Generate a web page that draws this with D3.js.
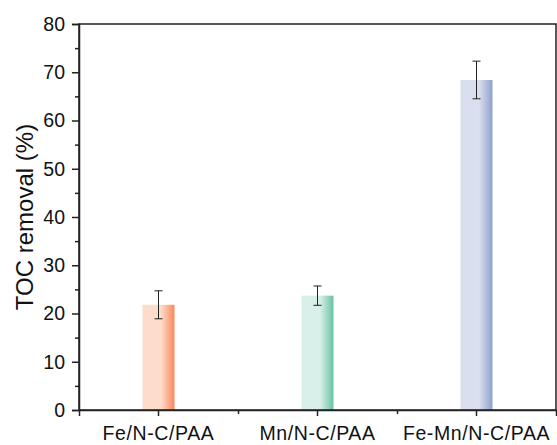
<!DOCTYPE html>
<html>
<head>
<meta charset="utf-8">
<script src="https://cdn.jsdelivr.net/npm/d3@7"></script>
<style>
  body { margin: 0; background: #fff; }
  svg { display: block; font-family: "Liberation Sans", Arial, sans-serif; }
</style>
</head>
<body>
<div id="chart"></div>
<script>
const categories = ["Fe/N-C/PAA", "Mn/N-C/PAA", "Fe-Mn/N-C/PAA"];
const values = [21.8, 23.7, 68.4];
const errors = [2.9, 2.0, 3.9];
const lightColors = ["#fedccc", "#d9efe9", "#d9dfee"];
const darkColors = ["#fb875a", "#68c3a1", "#8ea1cd"];
const yTicks = [0, 10, 20, 30, 40, 50, 60, 70, 80];

const width = 557, height = 445;
const margin = {top: 24, right: 1, bottom: 35, left: 79};
const w = width - margin.left - margin.right;
const h = height - margin.top - margin.bottom;

const svg = d3.select("#chart").append("svg")
  .attr("width", width)
  .attr("height", height);

const defs = svg.append("defs");
categories.forEach((c, i) => {
  const g = defs.append("linearGradient")
    .attr("id", "grad" + i)
    .attr("x1", "0%").attr("x2", "100%").attr("y1", "0%").attr("y2", "0%");
  g.append("stop").attr("offset", "0%").attr("stop-color", lightColors[i]);
  g.append("stop").attr("offset", "58%").attr("stop-color", lightColors[i]);
  g.append("stop").attr("offset", "100%").attr("stop-color", darkColors[i]);
});

const g = svg.append("g").attr("transform", `translate(${margin.left},${margin.top})`);

const x = d3.scaleBand().domain(categories).range([0, w]);
const y = d3.scaleLinear().domain([0, 80]).range([h, 0]);

const barW = 32;

// bars
g.selectAll("rect.bar")
  .data(values)
  .enter().append("rect")
  .attr("class", "bar")
  .attr("x", (d, i) => x(categories[i]) + x.bandwidth() / 2 - barW / 2)
  .attr("y", d => y(d))
  .attr("width", barW)
  .attr("height", d => h - y(d))
  .attr("fill", (d, i) => `url(#grad${i})`);

// error bars
const eb = g.selectAll("g.err")
  .data(values)
  .enter().append("g")
  .attr("class", "err")
  .attr("stroke", "#222")
  .attr("stroke-width", 1);
eb.append("line")
  .attr("x1", (d, i) => x(categories[i]) + x.bandwidth() / 2)
  .attr("x2", (d, i) => x(categories[i]) + x.bandwidth() / 2)
  .attr("y1", (d, i) => y(d + errors[i]))
  .attr("y2", (d, i) => y(d - errors[i]));
[1, -1].forEach(s => {
  eb.append("line")
    .attr("x1", (d, i) => x(categories[i]) + x.bandwidth() / 2 - 4)
    .attr("x2", (d, i) => x(categories[i]) + x.bandwidth() / 2 + 4)
    .attr("y1", (d, i) => y(d + s * errors[i]))
    .attr("y2", (d, i) => y(d + s * errors[i]));
});

// frame
g.append("rect")
  .attr("width", w).attr("height", h)
  .attr("fill", "none")
  .attr("stroke", "#222")
  .attr("stroke-width", 1.5);

// y axis
g.append("g")
  .attr("class", "yaxis")
  .call(d3.axisLeft(y).tickValues(yTicks).tickSize(7).tickPadding(7));
g.append("g")
  .call(d3.axisLeft(y).tickValues(d3.range(5, 80, 10)).tickSize(4).tickFormat(""))
  .select(".domain").remove();

// x axis
g.append("g")
  .attr("class", "xaxis")
  .attr("transform", `translate(0,${h})`)
  .call(d3.axisBottom(x).tickSize(6).tickPadding(10.5));
const xMinor = d3.scaleLinear().domain([0, 3]).range([0, w]);
g.append("g")
  .attr("transform", `translate(0,${h})`)
  .call(d3.axisBottom(xMinor).tickValues([1, 2]).tickSize(4).tickFormat(""))
  .select(".domain").remove();

g.selectAll(".tick line").attr("stroke", "#222").attr("stroke-width", 1.5);
g.selectAll(".domain").attr("stroke", "#222").attr("stroke-width", 1.5);
g.selectAll(".tick text").attr("fill", "#111").style("font-size", "19.5px");
g.selectAll(".xaxis .tick text").style("letter-spacing", "0.6px");

// y label
svg.append("text")
  .attr("transform", `translate(33,${margin.top + h / 2}) rotate(-90)`)
  .attr("text-anchor", "middle")
  .style("font-size", "24px")
  .attr("fill", "#111")
  .text("TOC removal (%)");
</script>
</body>
</html>
